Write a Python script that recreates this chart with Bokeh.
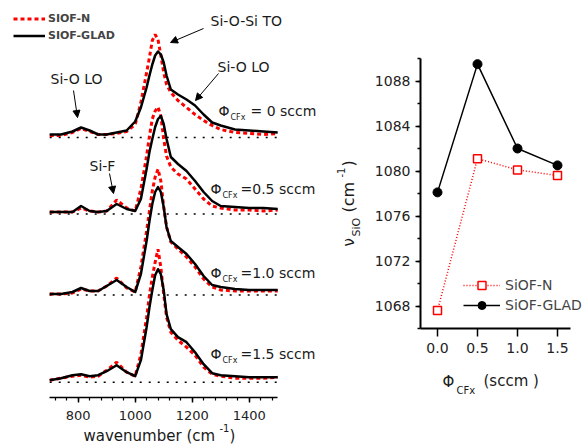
import math
from bokeh.plotting import figure
from bokeh.models import (Range1d, SingleIntervalTicker, FixedTicker, NumeralTickFormatter,
                          Label, Arrow, NormalHead, Legend, LegendItem)
from bokeh.layouts import row
from bokeh.embed import file_html
from bokeh.resources import INLINE

# ---------------- data ----------------
wavenumber = [700, 740, 780, 810, 840, 870, 900, 935, 970, 1000, 1020, 1040, 1050, 1060, 1070,
              1080, 1090, 1100, 1110, 1125, 1150, 1180, 1210, 1240, 1270, 1300, 1350, 1400, 1450, 1500]

# absorbance (arbitrary units), one spectrum per CFx flow
n_0 = [2, 2, 5, 9, 6, 3, 3, 4, 6, 13, 35, 65, 80, 97, 103, 98, 82, 65, 53, 45, 37, 30, 23, 17, 12, 8, 5, 4, 3, 4]
glad_0 = [3, 3, 6, 10, 7, 3, 3, 5, 7, 16, 30, 50, 62, 73, 82, 86, 83, 75, 62, 48, 43, 38, 32, 23, 15, 12, 8, 7, 6, 5]
n_05 = [2, 2, 2, 6, 3, 2, 3, 14, 6, 3, 25, 58, 78, 95, 103, 107, 98, 75, 58, 47, 40, 35, 25, 15, 8, 6, 4, 4, 3, 4]
glad_05 = [2, 2, 2, 8, 3, 2, 3, 10, 5, 3, 15, 45, 62, 75, 87, 95, 98, 90, 75, 57, 50, 43, 33, 22, 13, 8, 7, 6, 6, 5]
n_10 = [1, 1, 2, 6, 4, 4, 9, 17, 7, 3, 28, 64, 84, 104, 118, 126, 114, 88, 68, 53, 46, 38, 28, 16, 8, 5, 4, 4, 4, 4]
glad_10 = [1, 1, 3, 7, 4, 4, 9, 15, 8, 3, 21, 54, 74, 91, 103, 108, 103, 88, 68, 54, 48, 41, 31, 19, 10, 8, 6, 5, 5, 5]
n_15 = [2, 4, 6, 7, 5, 6, 12, 20, 10, 6, 28, 65, 87, 105, 120, 133, 115, 88, 65, 50, 42, 35, 27, 15, 8, 6, 4, 4, 4, 5]
glad_15 = [2, 4, 7, 8, 6, 7, 11, 17, 10, 6, 22, 55, 75, 92, 107, 113, 108, 92, 68, 53, 45, 40, 30, 18, 9, 7, 6, 5, 5, 5]
flow_labels = ["= 0 sccm", "=0.5 sccm", "=1.0 sccm", "=1.5 sccm"]
offsets = [260, 183.5, 102.5, 15.3]

phi_cfx = [0.0, 0.5, 1.0, 1.5]
nu_n = [1067.6, 1081.1, 1080.1, 1079.6]
nu_glad = [1078.1, 1089.5, 1082.0, 1080.5]

FONT = "DejaVu Sans"
H = 446
LW = 365  # width of left figure

# ---------------- left panel: spectra ----------------
def lx(px):
    return 800 + (px - 77.7) / 0.285

def ly(py):
    return 397 - py

left = figure(width=LW, height=H, x_range=Range1d(lx(0), lx(LW)), y_range=Range1d(ly(H), ly(0)),
              output_backend="svg", toolbar_location=None, title=None, y_axis_location=None,
              min_border_left=0, min_border_right=0, min_border_top=0, min_border_bottom=0)
left.grid.visible = False
left.outline_line_color = None
left.background_fill_color = "white"
ax = left.xaxis[0]
ax.fixed_location = 0
ax.bounds = (700, 1500)
ax.ticker = SingleIntervalTicker(interval=200, num_minor_ticks=5)
ax.axis_line_width = 1.5
ax.major_tick_line_width = 1.5
ax.minor_tick_line_width = 1.2
ax.major_tick_in = 0
ax.major_tick_out = 5
ax.minor_tick_in = 0
ax.minor_tick_out = 3
ax.major_label_text_font = FONT
ax.major_label_text_font_size = "13px"
ax.major_label_text_color = "#222222"
ax.major_label_standoff = 8

left.segment(x0=wavenumber[0], x1=wavenumber[-1], y0=offsets, y1=offsets,
             line_color="black", line_width=1.5, line_dash="2 7")

spec_n = [n_0, n_05, n_10, n_15]
spec_glad = [glad_0, glad_05, glad_10, glad_15]
red_r = []
black_r = []
for off, hn in zip(offsets, spec_n):
    red_r.append(left.line(wavenumber, [v + off for v in hn], line_color="#ff0000",
                           line_width=3, line_dash="4 3"))
for off, hg in zip(offsets, spec_glad):
    black_r.append(left.line(wavenumber, [v + off for v in hg], line_color="black",
                             line_width=2.5, line_join="round"))

leg_l = Legend(items=[LegendItem(label="SIOF-N", renderers=[red_r[0]]),
                      LegendItem(label="SIOF-GLAD", renderers=[black_r[0]])],
               location=(13, H - 44), padding=0, margin=0, spacing=0,
               glyph_width=32, glyph_height=17, label_height=17, label_standoff=3,
               label_text_font=FONT, label_text_font_size="11px", label_text_font_style="bold",
               border_line_color=None, background_fill_alpha=0)
left.add_layout(leg_l)

def ltext(txt, px, py, size="14px", angle=0.0):
    left.add_layout(Label(x=lx(px), y=ly(py), text=txt, text_font=FONT, text_font_size=size,
                          text_baseline="middle", text_align="left", angle=angle,
                          text_color="#1a1a1a"))

ltext("Si-O-Si TO", 210, 20)
ltext("Si-O LO", 217, 66)
ltext("Si-O LO", 50, 78)
ltext("Si-F", 89, 165)

phi_y = [110, 188, 272, 353]
phi_x = [218, 210, 210, 210]
txt_x = [250, 240, 240, 240]
for lab, py, px, tx in zip(flow_labels, phi_y, phi_x, txt_x):
    ltext("\u03a6", px, py, "14px")
    ltext("CFx", px + 12, py + 7, "8px")
    ltext(lab, tx, py, "14px")

ltext("wavenumber (cm", 83, 435, "15px")
ltext("-1", 219, 427, "10px")
ltext(")", 229, 435, "15px")

# rotated y-axis title of the right panel (sits in the gap between the panels)
up = math.pi / 2
ltext("\u03bd", 348, 246, "15px", up)
ltext("SiO", 356, 236, "11px", up)
ltext("(cm", 348, 212, "16px", up)
ltext("-1", 340, 177, "10px", up)
ltext(")", 348, 166, "16px", up)

for (x0, y0, x1, y1) in [(203, 28, 170, 42), (218, 73, 195, 100), (73, 90, 77, 117), (109, 173, 113, 193)]:
    left.add_layout(Arrow(end=NormalHead(size=7, fill_color="black", line_color="black", line_width=1),
                          x_start=lx(x0), y_start=ly(y0), x_end=lx(x1), y_end=ly(y1),
                          line_color="black", line_width=1))

# ---------------- right panel: peak position ----------------
RW = 588 - LW

def rx(px):
    return (px - 437) / 80.0

def ry(py):
    return 1066 + (328 - py) / 11.25

right = figure(width=RW, height=H, x_range=Range1d(rx(LW), rx(588)), y_range=Range1d(ry(H), ry(0)),
               output_backend="svg", toolbar_location=None, title=None,
               min_border_left=0, min_border_right=0, min_border_top=0, min_border_bottom=0)
right.grid.visible = False
right.outline_line_color = None
right.background_fill_color = "white"

xa = right.xaxis[0]
xa.fixed_location = 1066
xa.bounds = (rx(420), rx(570))
xa.ticker = FixedTicker(ticks=phi_cfx, minor_ticks=[])
xa.formatter = NumeralTickFormatter(format="0.0")
xa.major_tick_in = 0
xa.major_tick_out = 8
ya = right.yaxis[0]
ya.fixed_location = rx(420)
ya.bounds = (1066, 1090)
ya.ticker = SingleIntervalTicker(interval=4, num_minor_ticks=2)
ya.major_tick_in = 0
ya.major_tick_out = 5
ya.minor_tick_in = 0
ya.minor_tick_out = 3
for a in (xa, ya):
    a.axis_line_width = 2
    a.major_tick_line_width = 1.5
    a.minor_tick_line_width = 1.5
    a.major_label_text_font = FONT
    a.major_label_text_font_size = "14px"
    a.major_label_text_color = "#222222"
xa.major_label_standoff = 6
ya.major_label_standoff = 5

ln = right.line(phi_cfx, nu_n, line_color="#ff0000", line_width=1.5, line_dash="1 2")
sn = right.scatter(phi_cfx, nu_n, marker="square", size=8, fill_color="white",
                   line_color="#ff0000", line_width=1.5)
lg = right.line(phi_cfx, nu_glad, line_color="black", line_width=1.5)
sg = right.scatter(phi_cfx, nu_glad, marker="circle", size=9, fill_color="black", line_color="black")

leg_r = Legend(items=[LegendItem(label="SiOF-N", renderers=[ln, sn]),
                      LegendItem(label="SiOF-GLAD", renderers=[lg, sg])],
               location=(463 - LW, H - 315), padding=0, margin=0, spacing=0,
               glyph_width=37, glyph_height=20, label_height=20, label_standoff=5,
               label_text_font=FONT, label_text_font_size="14px",
               border_line_color=None, background_fill_alpha=0)
right.add_layout(leg_r)

def rtext(txt, px, py, size="15px"):
    right.add_layout(Label(x=rx(px), y=ry(py), text=txt, text_font=FONT, text_font_size=size,
                           text_baseline="middle", text_align="left", text_color="#1a1a1a"))

rtext("\u03a6", 442, 381, "15px")
rtext("CFx", 456, 390, "10px")
rtext("(sccm )", 483, 380, "15px")

layout = row(left, right)
open("out.html", "w").write(file_html(layout, INLINE))
